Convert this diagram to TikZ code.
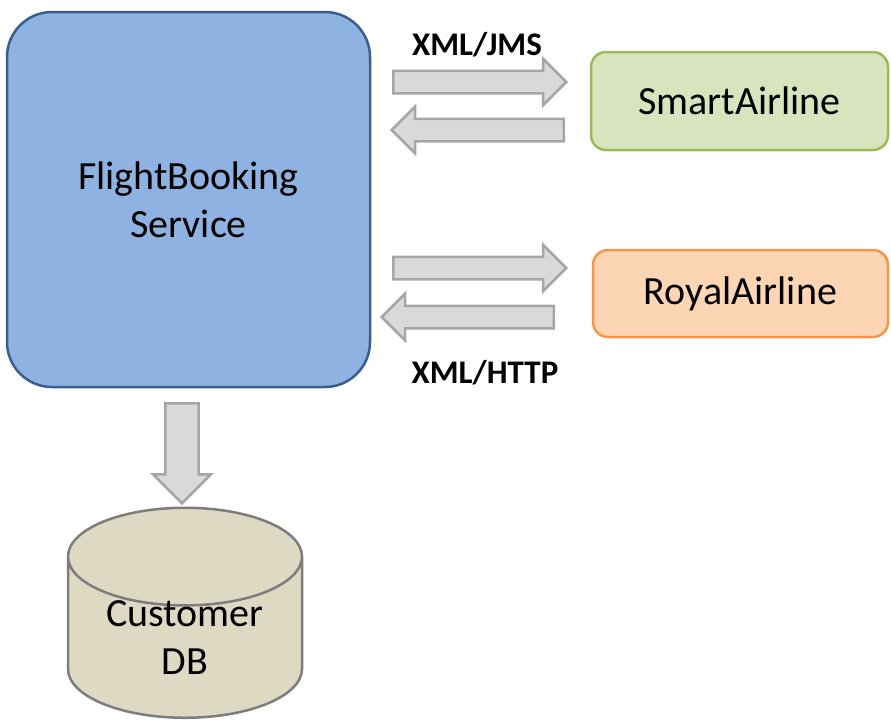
\documentclass[tikz,border=0pt]{standalone}
\usepackage{fontspec}
\setmainfont{Carlito}
\usetikzlibrary{shapes.arrows,shapes.geometric}
\definecolor{svcfill}{RGB}{142,179,226}
\definecolor{svcline}{RGB}{58,95,140}
\definecolor{smartfill}{RGB}{215,228,189}
\definecolor{smartline}{RGB}{155,187,89}
\definecolor{royalfill}{RGB}{252,213,181}
\definecolor{royalline}{RGB}{247,150,70}
\definecolor{dbfill}{RGB}{221,217,195}
\definecolor{dbline}{RGB}{125,125,125}
\definecolor{arrowfill}{RGB}{217,217,217}
\definecolor{arrowline}{RGB}{166,166,166}
\tikzset{
  box/.style={draw, line width=2.5pt, align=center, font=\fontsize{40}{48}\selectfont},
  blockarrow/.style={single arrow, draw=arrowline, fill=arrowfill, line width=2.5pt,
    inner sep=10pt, minimum width=44pt, single arrow head extend=12pt, single arrow tip angle=90},
  proto/.style={font=\fontsize{33}{40}\selectfont\bfseries}
}
\begin{document}
\begin{tikzpicture}[x=1pt,y=-1pt]
\useasboundingbox (0,0) rectangle (891,724);
% services
\node[box, draw=svcline, fill=svcfill, rounded corners=45pt, minimum width=363pt, minimum height=375pt] (fbs) at (188.5,199.5) {FlightBooking\\Service};
\node[box, draw=smartline, fill=smartfill, rounded corners=15pt, minimum width=297pt, minimum height=98pt] (smart) at (739.5,101) {SmartAirline};
\node[box, draw=royalline, fill=royalfill, rounded corners=15pt, minimum width=295pt, minimum height=87pt] (royal) at (740.5,293.5) {RoyalAirline};
\node[box, cylinder, shape border rotate=90, aspect=0.62, inner xsep=0pt, inner ysep=-25pt, draw=dbline, fill=dbfill, minimum width=234pt, minimum height=210pt, anchor=bottom] (db) at (185,719) {Customer\\DB};
% block arrows
\node[blockarrow, minimum height=173pt, anchor=tail] (jmsout) at (392,82) {};
\node[blockarrow, shape border rotate=180, minimum height=172pt, anchor=tail] (jmsin) at (565,130) {};
\node[blockarrow, minimum height=173pt, anchor=tail] (httpout) at (392,268) {};
\node[blockarrow, shape border rotate=180, minimum height=172pt, anchor=tail] (httpin) at (555,317) {};
\node[blockarrow, shape border rotate=270, inner sep=15pt, minimum width=58pt, minimum height=100pt, anchor=tail] (store) at (182,402) {};
% protocol labels
\node[proto] (jmslabel) at (477,45) {XML/JMS};
\node[proto] (httplabel) at (485,373) {XML/HTTP};
\end{tikzpicture}
\end{document}
